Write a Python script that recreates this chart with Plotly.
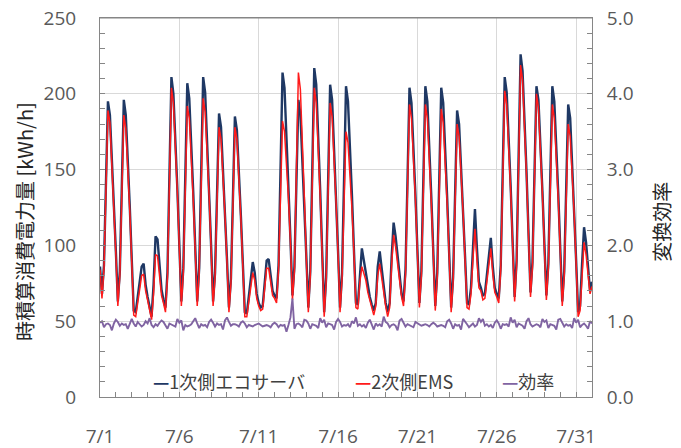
import plotly.graph_objects as go
import pandas as pd

# 3-hourly readings (0,3,6,9,12,15,18,21h) for 2010-07-01 .. 07-31, plus 08-01 00h
primary_kwh = [
    86, 68, 87, 140, 195, 186, 159, 129,     # 7/1
    96, 63, 83, 139, 196, 186, 158, 126,     # 7/2
    91, 57, 56, 66, 76, 86, 88, 74,          # 7/3
    66, 60, 53, 74, 106, 104, 86, 71,        # 7/4
    64, 59, 82, 146, 211, 200, 171, 137,     # 7/5
    100, 63, 85, 145, 207, 197, 168, 135,    # 7/6
    99, 63, 85, 147, 211, 201, 171, 137,     # 7/7
    100, 63, 82, 134, 187, 178, 152, 123,    # 7/8
    91, 59, 78, 131, 185, 176, 150, 120,     # 7/9
    88, 56, 55, 66, 80, 89, 82, 68,          # 7/10
    62, 59, 60, 76, 90, 91, 80, 70,          # 7/11
    67, 65, 87, 150, 214, 204, 174, 141,     # 7/12
    104, 67, 86, 141, 196, 187, 159, 127,    # 7/13
    93, 59, 83, 149, 217, 206, 174, 136,     # 7/14
    96, 56, 79, 141, 206, 196, 166, 132,     # 7/15
    96, 59, 81, 142, 205, 195, 166, 133,     # 7/16
    97, 62, 61, 82, 98, 90, 82, 72,          # 7/17
    66, 61, 57, 62, 86, 96, 84, 70,          # 7/18
    62, 56, 62, 92, 115, 106, 92, 78,        # 7/19
    68, 63, 84, 143, 204, 194, 166, 133,     # 7/20
    97, 62, 83, 144, 205, 195, 166, 132,     # 7/21
    96, 60, 82, 142, 204, 194, 165, 131,     # 7/22
    95, 59, 79, 133, 189, 180, 154, 125,     # 7/23
    93, 62, 61, 72, 100, 124, 98, 76,        # 7/24
    72, 67, 68, 80, 95, 105, 86, 72,         # 7/25
    68, 65, 87, 148, 211, 201, 172, 139,     # 7/26
    102, 66, 90, 157, 226, 215, 184, 148,    # 7/27
    108, 69, 89, 147, 205, 196, 168, 136,    # 7/28
    101, 67, 88, 146, 205, 195, 167, 134,    # 7/29
    98, 63, 83, 136, 193, 184, 156, 125,     # 7/30
    90, 56, 60, 88, 112, 102, 86, 70,        # 7/31
    76,                                      # 8/1 0h
]

secondary_kwh = [
    84, 65, 84, 137, 189, 181, 155, 127,
    94, 60, 80, 134, 186, 177, 152, 123,
    89, 54, 53, 63, 72, 80, 81, 70,
    64, 57, 51, 68, 94, 93, 79, 67,
    62, 56, 79, 142, 204, 194, 167, 135,
    98, 60, 82, 138, 192, 184, 159, 130,
    97, 60, 82, 140, 197, 188, 163, 133,
    98, 60, 79, 130, 178, 170, 147, 120,
    89, 56, 75, 127, 178, 170, 146, 118,
    86, 53, 53, 63, 75, 82, 77, 65,
    60, 57, 58, 73, 85, 85, 76, 67,
    65, 62, 84, 134, 182, 175, 155, 131,
    102, 64, 83, 150, 214, 203, 170, 132,
    91, 56, 80, 142, 204, 194, 166, 132,
    94, 53, 76, 135, 194, 185, 159, 128,
    94, 56, 78, 127, 175, 168, 148, 124,
    95, 59, 58, 76, 86, 82, 77, 69,
    64, 58, 54, 60, 80, 88, 79, 67,
    60, 53, 59, 87, 107, 99, 87, 75,
    66, 60, 81, 137, 193, 184, 159, 130,
    95, 59, 80, 138, 193, 184, 159, 128,
    94, 57, 79, 135, 190, 181, 157, 127,
    93, 56, 76, 128, 180, 172, 149, 122,
    91, 59, 58, 68, 91, 111, 90, 72,
    70, 64, 65, 77, 89, 98, 81, 69,
    66, 62, 84, 143, 202, 193, 167, 136,
    100, 63, 87, 153, 219, 209, 180, 146,
    106, 66, 86, 144, 200, 191, 165, 134,
    99, 64, 85, 140, 193, 184, 160, 130,
    96, 60, 80, 129, 180, 172, 148, 121,
    88, 53, 57, 83, 102, 94, 80, 68,
    73,
]

efficiency = [
    0.98, 1.00, 0.92, 0.96, 0.97, 0.95, 0.88, 0.97,
    1.02, 0.99, 0.94, 0.97, 0.95, 0.96, 0.90, 0.98,
    1.03, 0.97, 0.93, 0.99, 0.96, 0.93, 0.95, 1.00,
    0.97, 1.04, 0.95, 0.92, 0.96, 0.94, 0.98, 1.01,
    0.99, 0.95, 0.90, 0.97, 0.96, 0.95, 0.93, 1.03,
    0.98, 1.01, 0.88, 0.95, 0.93, 0.94, 0.96, 1.00,
    1.04, 0.97, 0.91, 0.96, 0.94, 0.95, 0.92, 0.99,
    1.02, 0.98, 0.93, 0.97, 0.95, 0.96, 0.89, 1.01,
    1.05, 0.99, 0.94, 0.96, 0.96, 0.95, 0.93, 0.98,
    1.00, 0.97, 0.92, 0.95, 0.94, 0.93, 0.95, 0.96,
    0.97, 0.95, 0.93, 0.94, 0.95, 0.94, 0.92, 0.96,
    0.98, 0.96, 0.92, 0.95, 0.94, 0.95, 0.86, 0.95,
    1.05, 1.30, 0.90, 0.96, 0.97, 0.95, 0.92, 1.02,
    1.01, 0.97, 0.90, 0.96, 0.95, 0.94, 0.91, 1.04,
    0.98, 1.02, 0.92, 0.97, 0.96, 0.95, 0.89, 0.99,
    1.03, 0.99, 0.93, 0.95, 0.94, 0.96, 0.92, 1.00,
    0.97, 1.05, 0.94, 0.96, 0.93, 0.95, 0.91, 0.98,
    1.02, 0.96, 0.89, 0.97, 0.94, 0.96, 0.93, 1.06,
    0.99, 0.97, 0.92, 0.95, 0.96, 0.94, 0.88, 1.01,
    1.03, 0.98, 0.93, 0.96, 0.95, 0.94, 0.92, 0.99,
    0.97, 0.95, 0.94, 0.95, 0.96, 0.95, 0.93, 0.96,
    0.98, 0.96, 0.93, 0.94, 0.95, 0.94, 0.92, 1.00,
    1.02, 0.97, 0.90, 0.96, 0.94, 0.95, 0.89, 1.03,
    1.00, 0.96, 0.92, 0.95, 0.97, 0.93, 0.95, 1.04,
    0.99, 1.03, 0.94, 0.96, 0.93, 0.95, 0.91, 0.98,
    1.01, 0.97, 0.90, 0.96, 0.95, 0.96, 0.93, 1.05,
    0.98, 1.02, 0.92, 0.97, 0.96, 0.94, 0.90, 1.00,
    1.04, 0.96, 0.93, 0.95, 0.96, 0.95, 0.92, 1.03,
    0.99, 1.01, 0.91, 0.96, 0.95, 0.94, 0.89, 1.02,
    1.03, 0.97, 0.93, 0.96, 0.94, 0.95, 0.91, 1.04,
    0.98, 1.02, 0.92, 0.95, 0.97, 0.94, 0.90, 1.00,
    0.97,
]

x_tick_vals = ["2010-07-01", "2010-07-06", "2010-07-11", "2010-07-16",
               "2010-07-21", "2010-07-26", "2010-07-31"]
x_tick_text = ["7/1", "7/6", "7/11", "7/16", "7/21", "7/26", "7/31"]

series_names = ["1次側エコサーバ", "2次側EMS", "効率"]
series_colors = ["#1f3864", "#ff1a1a", "#8064a2"]

times = pd.date_range("2010-07-01", periods=len(primary_kwh), freq="3h")

fig = go.Figure()
fig.add_trace(go.Scatter(x=times, y=primary_kwh, name=series_names[0], mode="lines",
                         line=dict(color=series_colors[0], width=2.4)))
fig.add_trace(go.Scatter(x=times, y=secondary_kwh, name=series_names[1], mode="lines",
                         line=dict(color=series_colors[1], width=1.5)))
fig.add_trace(go.Scatter(x=times, y=efficiency, name=series_names[2], mode="lines",
                         yaxis="y2", line=dict(color=series_colors[2], width=1.9)))

tick_font = dict(family="Open Sans, Noto Sans CJK JP", size=19, color="#595959")
axis_col = "#868686"
grid_col = "#d9d9d9"

fig.update_layout(
    width=681, height=448,
    margin=dict(l=100, r=89, t=18, b=51, autoexpand=False),
    paper_bgcolor="white", plot_bgcolor="white",
    showlegend=False,
    xaxis=dict(
        type="date", range=["2010-07-01", "2010-08-01"], automargin=False,
        tickmode="array", tickvals=x_tick_vals, ticktext=x_tick_text,
        ticks="inside", ticklen=5, tickcolor=axis_col,
        showgrid=True, gridcolor=grid_col, gridwidth=1,
        showline=True, linecolor=axis_col, linewidth=1, mirror=True,
        tickfont=tick_font, ticklabelstandoff=22, ticklabeloverflow="allow",
        minor=dict(tickmode="linear", tick0="2010-07-01", dtick=86400000,
                   ticks="inside", ticklen=5, tickcolor=axis_col, showgrid=False),
        zeroline=False,
    ),
    yaxis=dict(
        range=[0, 250], dtick=50, tick0=0, automargin=False,
        ticks="inside", ticklen=5, tickcolor=axis_col,
        showgrid=True, gridcolor=grid_col, gridwidth=1,
        showline=True, linecolor=axis_col, linewidth=1,
        tickfont=tick_font, ticklabelstandoff=19, ticklabeloverflow="allow",
        minor=dict(dtick=10, ticks="inside", ticklen=5, tickcolor=axis_col, showgrid=False),
        zeroline=False,
    ),
    yaxis2=dict(
        range=[0, 5], dtick=1, tick0=0, tickformat=".1f", automargin=False,
        overlaying="y", side="right",
        ticks="inside", ticklen=5, tickcolor=axis_col,
        showgrid=False,
        showline=True, linecolor=axis_col, linewidth=1,
        tickfont=tick_font, ticklabelstandoff=10, ticklabeloverflow="allow",
        minor=dict(dtick=0.2, ticks="inside", ticklen=5, tickcolor=axis_col),
        zeroline=False,
    ),
)

# top border of the plot frame
fig.add_shape(type="line", xref="paper", yref="paper", x0=0, x1=1, y0=1, y1=1,
              line=dict(color=axis_col, width=1), layer="above")

jp = "Noto Sans CJK JP"
fig.add_annotation(xref="paper", yref="paper", x=-0.1524, y=0.462,
                   text="時積算消費電力量 [kWh/h]", textangle=-90, showarrow=False,
                   xanchor="center", yanchor="middle",
                   font=dict(family=jp, size=20, color="#262626"))
fig.add_annotation(xref="paper", yref="paper", x=1.142, y=0.462,
                   text="変換効率", textangle=-90, showarrow=False,
                   xanchor="center", yanchor="middle",
                   font=dict(family=jp, size=20, color="#262626"))

legend_x = [0.104, 0.514, 0.813]
for name, col, lx in zip(series_names, series_colors, legend_x):
    fig.add_annotation(xref="paper", yref="paper", x=lx, y=0.042,
                       text=f'<span style="color:{col}"><b>—</b></span>{name}',
                       showarrow=False, xanchor="left", yanchor="middle",
                       font=dict(family=jp, size=18, color="#404040"))

# remove the browser's default 8px body margin so the figure fills the window
fig.write_html("out.html",
               config={"displayModeBar": False},
               post_script="document.body.style.margin='0px';document.body.style.overflow='hidden';")
